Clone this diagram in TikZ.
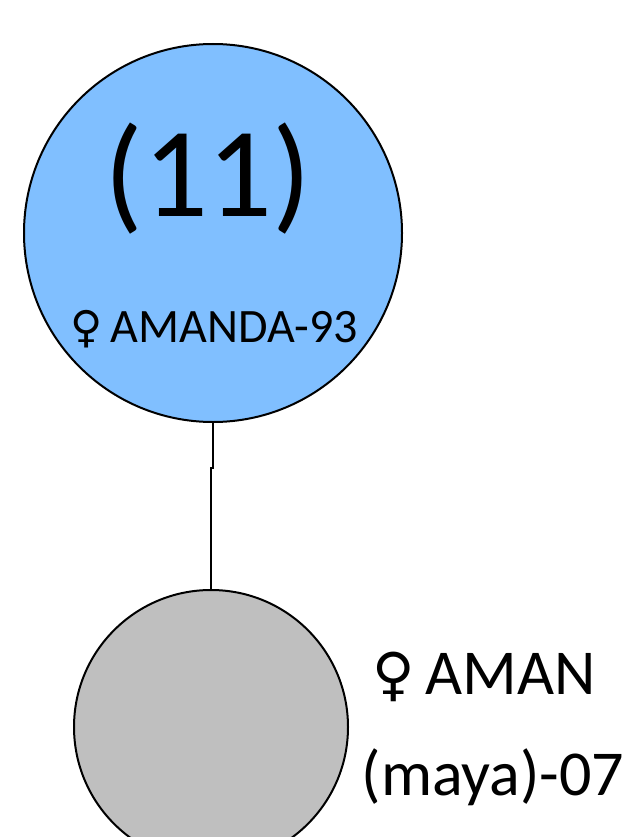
\documentclass[tikz,border=0pt]{standalone}
\usepackage{fontspec}
\usepackage{xcolor}
\setmainfont{Carlito}
\newfontfamily\symfont{DejaVu Sans}

\definecolor{nodeblue}{RGB}{128,191,255}
\definecolor{nodegray}{RGB}{191,191,191}

\begin{document}
\begin{tikzpicture}[x=1pt, y=-1pt]
  % Fix the page to the reference size
  \useasboundingbox (0,0) rectangle (638,837);

  % Draw the two circles
  \node[circle, draw=black, line width=2pt, fill=nodeblue, minimum size=378pt, inner sep=0pt] (amanda) at (213,233) {};
  \node[circle, draw=black, line width=2pt, fill=nodegray, minimum size=274pt, inner sep=0pt] (aman) at (211,727) {};

  % Connect them
  \draw[line width=2pt] (amanda.south) -- ++(0,45) -- ++(-2,0) -- (aman.north);

  % Labels
  \node[font=\fontsize{128}{130}\selectfont] (count) at (208,179) {(11)};
  \node[font=\fontsize{48}{50}\selectfont] (amandalabel) at (214,329) {{\symfont\fontsize{44}{48}\selectfont ♀}\,AMANDA-93};
  \node[font=\fontsize{64}{68}\selectfont] (amanlabel) at (484,677) {{\symfont\fontsize{58}{62}\selectfont ♀}\,AMAN};
  \node[font=\fontsize{64}{68}\selectfont] (mayalabel) at (493,777) {(maya)-07};
\end{tikzpicture}
\end{document}
